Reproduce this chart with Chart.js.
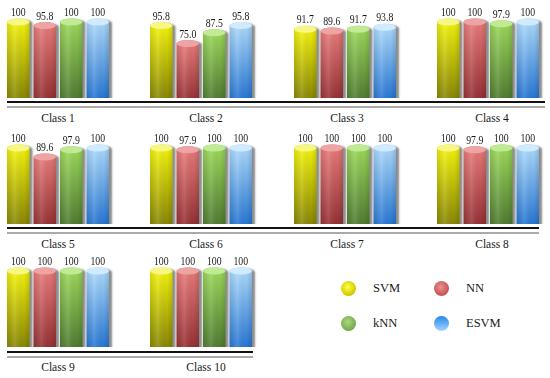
<!DOCTYPE html>
<html>
<head>
<meta charset="utf-8">
<script src="https://cdn.jsdelivr.net/npm/chart.js@4.4.1/dist/chart.umd.min.js"></script>
<style>
  body { margin: 0; background: #fff; }
  #wrap { position: relative; width: 550px; height: 378px; overflow: hidden; font-family: "Liberation Serif", "Times New Roman", "DejaVu Serif", serif; color: #1a1a1a; }
  #wrap canvas { position: absolute; }
  .cls { position: absolute; width: 120px; text-align: center; font-size: 11.5px; line-height: 14px; }
  .rule { position: absolute; height: 2px; }
  .leg { position: absolute; font-size: 12.5px; line-height: 14px; }
  .dot { position: absolute; width: 15px; height: 15px; border-radius: 50%; }
</style>
</head>
<body>
<div id="wrap"></div>
<script>
// datos
const classes = ['Class 1', 'Class 2', 'Class 3', 'Class 4', 'Class 5', 'Class 6', 'Class 7', 'Class 8', 'Class 9', 'Class 10'];
const methods = ['SVM', 'NN', 'kNN', 'ESVM'];
const svm  = [100, 95.8, 91.7, 100, 100, 100, 100, 100, 100, 100];
const nn   = [95.8, 75.0, 89.6, 100, 89.6, 97.9, 100, 97.9, 100, 100];
const knn  = [100, 87.5, 91.7, 97.9, 97.9, 100, 100, 100, 100, 100];
const esvm = [100, 95.8, 93.8, 100, 100, 100, 100, 100, 100, 100];

// colores de cada cilindro: arriba, abajo, tapa
const looks = [
  { top: '#f4f40c', bottom: '#7c7a04', cap: '#f7f785' },
  { top: '#e87a7a', bottom: '#8c282c', cap: '#efa4a4' },
  { top: '#9cd95a', bottom: '#46702c', cap: '#c0ea94' },
  { top: '#acdafc', bottom: '#166ad0', cap: '#d0eaff' }
];

const wrap = document.getElementById('wrap');
const colLeft = [5, 148, 292, 435];
const rowTop = [1, 127, 250];

// dibuja las barras como cilindros
const cylinderPlugin = {
  id: 'cylinders',
  afterDatasetsDraw(chart) {
    const ctx = chart.ctx;
    const meta = chart.getDatasetMeta(0);
    const values = chart.data.datasets[0].data;
    meta.data.forEach((bar, i) => {
      const look = looks[i];
      const x = bar.x, top = bar.y, base = bar.base;
      const rx = bar.width / 2, ry = 3.5;
      const path = () => {
        ctx.beginPath();
        ctx.moveTo(x - rx, top);
        ctx.lineTo(x - rx, base);
        ctx.ellipse(x, base, rx, ry, 0, Math.PI, 0, true);
        ctx.lineTo(x + rx, top);
        ctx.ellipse(x, top, rx, ry, 0, 0, Math.PI, true);
        ctx.closePath();
      };
      ctx.save();
      // sombra
      ctx.shadowColor = 'rgba(0,0,0,0.45)';
      ctx.shadowOffsetX = 3;
      ctx.shadowOffsetY = 1;
      ctx.shadowBlur = 2;
      const vg = ctx.createLinearGradient(0, top, 0, base);
      vg.addColorStop(0, look.top);
      vg.addColorStop(1, look.bottom);
      path();
      ctx.fillStyle = vg;
      ctx.fill();
      ctx.restore();
      // sombreado horizontal
      ctx.save();
      const hg = ctx.createLinearGradient(x - rx, 0, x + rx, 0);
      hg.addColorStop(0, 'rgba(0,0,0,0.10)');
      hg.addColorStop(0.35, 'rgba(255,255,255,0.12)');
      hg.addColorStop(0.75, 'rgba(0,0,0,0.02)');
      hg.addColorStop(1, 'rgba(0,0,0,0.14)');
      path();
      ctx.fillStyle = hg;
      ctx.fill();
      // tapa
      ctx.beginPath();
      ctx.ellipse(x, top, rx, ry, 0, 0, Math.PI * 2);
      ctx.fillStyle = look.cap;
      ctx.fill();
      // valor (texto algo estrecho como en la figura)
      const v = values[i];
      ctx.translate(x, top - 6);
      ctx.scale(0.85, 1);
      ctx.fillStyle = '#1a1a1a';
      ctx.font = '11.5px "Liberation Serif", "Times New Roman", serif';
      ctx.textAlign = 'center';
      ctx.textBaseline = 'alphabetic';
      ctx.fillText(v === 100 ? '100' : v.toFixed(1), 0, 0);
      ctx.restore();
    });
  }
};

classes.forEach((name, k) => {
  const row = Math.floor(k / 4), col = k % 4;
  const canvas = document.createElement('canvas');
  canvas.width = 112;
  canvas.height = 97;
  canvas.style.left = colLeft[col] + 'px';
  canvas.style.top = rowTop[row] + 'px';
  wrap.appendChild(canvas);

  new Chart(canvas.getContext('2d'), {
    type: 'bar',
    data: {
      labels: methods,
      datasets: [{
        label: name,
        data: [svm[k], nn[k], knn[k], esvm[k]],
        backgroundColor: 'rgba(0,0,0,0)',
        categoryPercentage: 1,
        barPercentage: 0.85
      }]
    },
    options: {
      responsive: false,
      animation: false,
      layout: { padding: { top: 21, bottom: 7, left: 0, right: 6 } },
      plugins: { legend: { display: false }, tooltip: { enabled: false } },
      scales: {
        x: { display: false },
        y: { display: false, min: 20, max: 100 }
      }
    },
    plugins: [cylinderPlugin]
  });

  const lab = document.createElement('div');
  lab.className = 'cls';
  lab.textContent = name;
  lab.style.left = (colLeft[col] - 5 + [-2, 3, 0, 2][col]) + 'px';
  lab.style.top = (rowTop[row] + 110) + 'px';
  wrap.appendChild(lab);
});

// líneas dobles bajo cada fila
const rules = [
  { y: 101, w: 538 }, { y: 227, w: 532 }, { y: 351, w: 246 }
];
rules.forEach(r => {
  const a = document.createElement('div');
  a.className = 'rule';
  a.style.cssText = `left:7px;top:${r.y}px;width:${r.w}px;background:#111;`;
  const b = document.createElement('div');
  b.className = 'rule';
  b.style.cssText = `left:7px;top:${r.y + 4.5}px;width:${r.w}px;background:#aaa;`;
  wrap.appendChild(a);
  wrap.appendChild(b);
});

// leyenda
const legendDots = [
  'radial-gradient(circle at 45% 40%, #ffff50, #d8d000 60%, #a8a000)',
  'radial-gradient(circle at 45% 40%, #e89292, #cc5a5a 60%, #a84444)',
  'radial-gradient(circle at 45% 40%, #a8d880, #7cb050 60%, #5c8a38)',
  'linear-gradient(#2486ee, #a8d4ff)'
];
const legendPos = [[348, 288], [441, 288], [348, 323], [441, 323]];
methods.forEach((m, i) => {
  const [cx, cy] = legendPos[i];
  const d = document.createElement('div');
  d.className = 'dot';
  d.style.left = (cx - 7.5) + 'px';
  d.style.top = (cy - 7.5) + 'px';
  d.style.background = legendDots[i];
  wrap.appendChild(d);
  const t = document.createElement('div');
  t.className = 'leg';
  t.textContent = m;
  t.style.left = (cx + 25) + 'px';
  t.style.top = (cy - 7) + 'px';
  wrap.appendChild(t);
});
</script>
</body>
</html>
